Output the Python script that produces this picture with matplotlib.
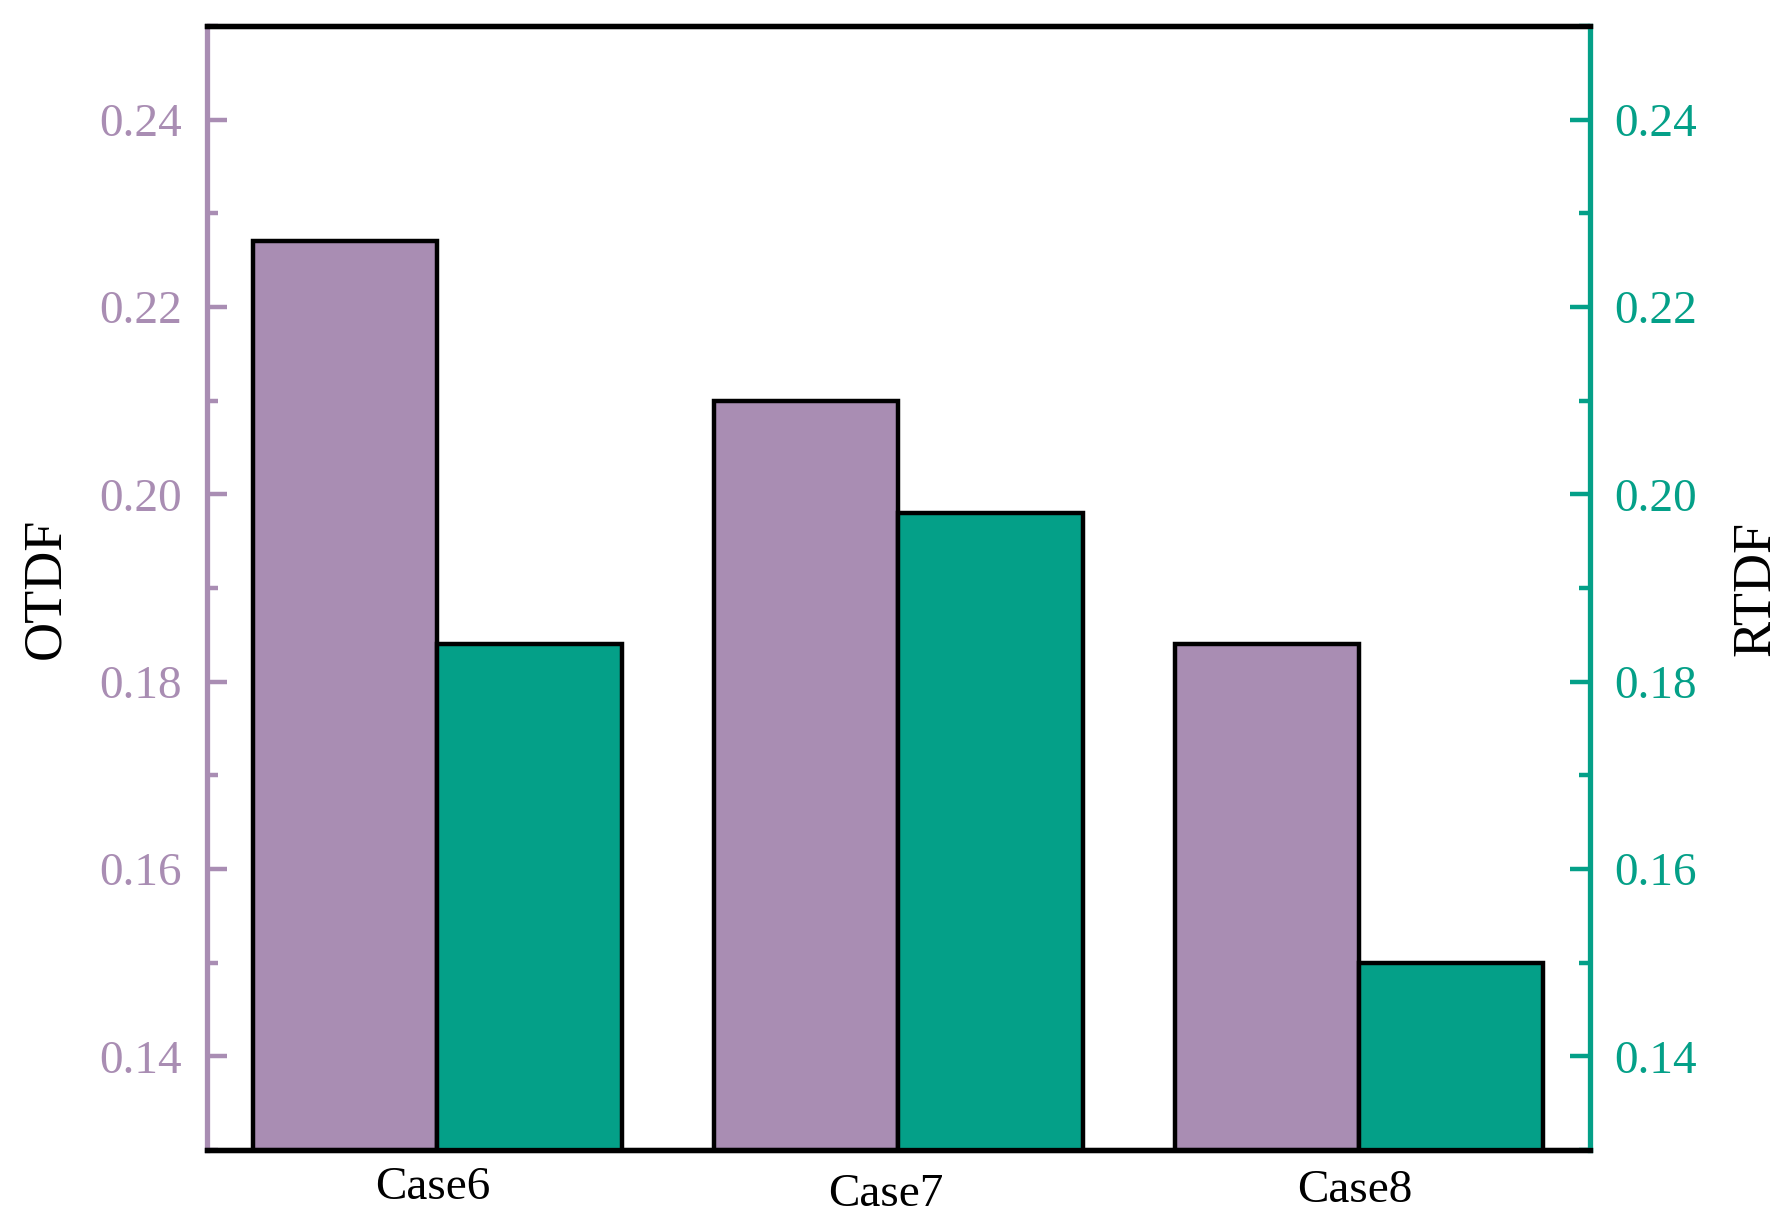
import numpy as np
import matplotlib
matplotlib.use("Agg")
import matplotlib.pyplot as plt
import matplotlib.transforms as mtransforms
from matplotlib.ticker import MultipleLocator, FormatStrFormatter

# Dados
casos = ["Case6", "Case7", "Case8"]
otdf = [0.227, 0.210, 0.184]
rtdf = [0.184, 0.198, 0.150]

cor_otdf = "#A98DB3"
cor_rtdf = "#04A088"

plt.rcParams["font.family"] = ["Liberation Serif", "DejaVu Serif"]

fig = plt.figure(figsize=(8.91, 6.15), dpi=200)
ax1 = fig.add_axes([0.116, 0.065, 0.776, 0.914])
ax2 = ax1.twinx()

x = np.arange(len(casos))
largura = 0.4

ax1.bar(x - largura / 2, otdf, largura, color=cor_otdf, edgecolor="black", linewidth=1.6, zorder=2)
ax2.bar(x + largura / 2, rtdf, largura, color=cor_rtdf, edgecolor="black", linewidth=1.6, zorder=2)

for ax in (ax1, ax2):
    ax.set_ylim(0.13, 0.25)
    ax.set_xlim(-0.5, 2.5)
    ax.yaxis.set_major_locator(MultipleLocator(0.02))
    ax.yaxis.set_minor_locator(MultipleLocator(0.01))
    ax.yaxis.set_major_formatter(FormatStrFormatter("%.2f"))
    for s in ax.spines.values():
        s.set_linewidth(1.9)
    ax.spines["top"].set_color("black")
    ax.spines["bottom"].set_color("black")

ax1.spines["left"].set_color(cor_otdf)
ax2.spines["left"].set_visible(False)
ax2.spines["right"].set_color(cor_rtdf)
ax1.spines["right"].set_visible(False)

ax1.tick_params(axis="y", which="major", direction="in", length=7.2, width=1.6,
                colors=cor_otdf, labelsize=17, pad=9)
ax1.tick_params(axis="y", which="minor", direction="in", length=4, width=1.6, colors=cor_otdf)
ax2.tick_params(axis="y", which="major", direction="in", length=7.2, width=1.6,
                colors=cor_rtdf, labelsize=17, pad=9)
ax2.tick_params(axis="y", which="minor", direction="in", length=4, width=1.6, colors=cor_rtdf)

ax1.set_xticks(x)
ax1.set_xticklabels(casos)
ax1.tick_params(axis="x", length=0, labelsize=17, pad=6)

# pequenos deslocamentos dos rótulos como no original
desloc = [(-4, 0), (-12, -7), (-4, -3)]
for lab, (dx, dy) in zip(ax1.get_xticklabels(), desloc):
    lab.set_transform(lab.get_transform() +
                      mtransforms.ScaledTranslation(dx / 200, dy / 200, fig.dpi_scale_trans))

ax1.set_ylabel("OTDF", fontsize=19.5, labelpad=10)
ax2.set_ylabel("RTDF", fontsize=19.5, labelpad=12)

fig.savefig("out.png", dpi=200)
